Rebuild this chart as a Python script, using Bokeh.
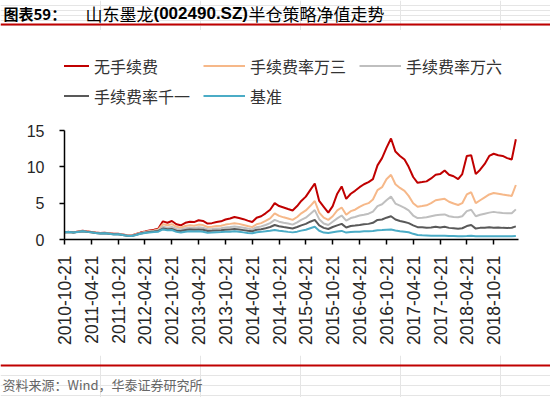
import pandas as pd
from bokeh.plotting import figure
from bokeh.models import Range1d, FixedTicker, DatetimeTickFormatter, Legend, LegendItem
from bokeh.layouts import column
from bokeh.embed import file_html
from bokeh.resources import INLINE
from bokeh.core.properties import value

# ---------------- data ----------------
TITLE_TAG = "图表59："
TITLE_NAME = "山东墨龙"
TITLE_CODE = "(002490.SZ)"
TITLE_REST = "半仓策略净值走势"
SOURCE = "资料来源：Wind，华泰证券研究所"

SERIES_NAMES = ["无手续费", "手续费率万三", "手续费率万六", "手续费率千一", "基准"]
SERIES_COLORS = ["#C00000", "#F6B889", "#BFBFBF", "#595959", "#4BACC6"]

TICK_LABELS = ["2010-10-21", "2011-04-21", "2011-10-21", "2012-04-21", "2012-10-21",
               "2013-04-21", "2013-10-21", "2014-04-21", "2014-10-21", "2015-04-21",
               "2015-10-21", "2016-04-21", "2016-10-21", "2017-04-21", "2017-10-21",
               "2018-04-21", "2018-10-21"]
Y_TICKS = [0, 5, 10, 15]

START_DATE = "2010-10-21"
END_DATE = "2019-04-08"

no_fee = [1.00, 1.05, 0.98, 1.10, 1.20, 1.12, 1.05, 0.95, 0.90, 0.92, 0.85, 0.78,
          0.80, 0.70, 0.58, 0.55, 0.75, 0.95, 1.10, 1.25, 1.35, 1.50, 2.50, 2.30,
          2.55, 2.10, 1.95, 2.30, 2.45, 2.40, 2.65, 2.55, 2.20, 2.25, 2.40, 2.50,
          2.75, 2.90, 3.10, 2.95, 2.80, 2.60, 2.40, 3.00, 3.20, 3.60, 4.10, 5.00,
          4.60, 4.40, 4.20, 4.00, 4.60, 5.30, 5.90, 6.80, 7.70, 5.30, 4.50, 3.70,
          4.60, 6.30, 7.30, 5.60, 6.30, 6.70, 7.20, 7.60, 7.90, 8.30, 10.20, 11.20,
          12.60, 13.90, 12.10, 11.50, 11.00, 10.00, 8.60, 7.80, 7.90, 8.00, 8.40, 8.90,
          9.00, 9.50, 8.90, 8.70, 8.30, 9.00, 11.50, 11.60, 9.00, 9.60, 10.40, 11.50,
          11.80, 11.60, 11.50, 11.20, 11.00, 13.80]

fee_3 = [1.00, 1.04, 0.97, 1.08, 1.17, 1.10, 1.03, 0.93, 0.88, 0.90, 0.83, 0.76,
         0.77, 0.67, 0.56, 0.53, 0.72, 0.90, 1.04, 1.16, 1.25, 1.38, 2.10, 1.95,
         2.10, 1.75, 1.62, 1.85, 1.95, 1.90, 2.05, 1.98, 1.72, 1.75, 1.85, 1.90,
         2.05, 2.15, 2.25, 2.15, 2.00, 1.85, 1.70, 2.10, 2.25, 2.55, 2.90, 3.60,
         3.25, 3.05, 2.90, 2.70, 3.10, 3.60, 4.00, 4.60, 5.30, 3.70, 3.00, 2.70,
         3.20, 4.00, 4.40, 3.40, 3.90, 4.10, 4.50, 4.80, 5.00, 5.50, 6.80, 7.20,
         8.30, 8.90, 7.60, 7.10, 6.70, 6.00, 5.00, 4.50, 4.60, 4.70, 5.00, 5.40,
         5.50, 5.60, 5.20, 4.95, 4.75, 5.00, 6.20, 6.50, 5.00, 5.40, 5.80, 6.20,
         6.40, 6.30, 6.20, 6.10, 6.00, 7.50]

fee_6 = [1.00, 1.03, 0.96, 1.06, 1.15, 1.08, 1.01, 0.91, 0.86, 0.88, 0.81, 0.74,
         0.75, 0.65, 0.54, 0.51, 0.69, 0.86, 0.99, 1.10, 1.18, 1.28, 1.75, 1.62,
         1.72, 1.45, 1.38, 1.55, 1.62, 1.58, 1.68, 1.62, 1.42, 1.45, 1.52, 1.55,
         1.65, 1.72, 1.80, 1.72, 1.62, 1.50, 1.38, 1.70, 1.80, 2.00, 2.25, 2.70,
         2.45, 2.30, 2.20, 2.05, 2.35, 2.70, 3.00, 3.50, 4.05, 2.80, 2.20, 2.00,
         2.45, 2.90, 3.30, 2.60, 2.95, 3.10, 3.30, 3.40, 3.55, 3.85, 4.60, 4.85,
         5.40, 5.90, 4.95, 4.65, 4.35, 4.00, 3.30, 2.95, 3.00, 3.05, 3.20, 3.35,
         3.40, 3.45, 3.20, 3.10, 3.05, 3.20, 3.90, 4.10, 3.20, 3.40, 3.55, 3.70,
         3.80, 3.70, 3.65, 3.60, 3.60, 4.15]

fee_10 = [1.00, 1.02, 0.95, 1.05, 1.13, 1.06, 0.99, 0.89, 0.84, 0.86, 0.79, 0.72,
          0.73, 0.63, 0.52, 0.49, 0.66, 0.82, 0.94, 1.04, 1.10, 1.18, 1.50, 1.40,
          1.45, 1.22, 1.16, 1.30, 1.36, 1.33, 1.38, 1.33, 1.17, 1.19, 1.24, 1.26,
          1.33, 1.38, 1.43, 1.37, 1.29, 1.20, 1.12, 1.35, 1.42, 1.56, 1.72, 2.00,
          1.82, 1.72, 1.63, 1.52, 1.72, 1.95, 2.15, 2.45, 2.70, 1.95, 1.60, 1.45,
          1.72, 1.95, 2.15, 1.65, 1.85, 1.92, 2.00, 2.10, 2.15, 2.30, 2.70, 2.75,
          3.00, 3.20, 2.75, 2.55, 2.40, 2.25, 1.95, 1.70, 1.68, 1.62, 1.65, 1.75,
          1.65, 1.75, 1.60, 1.55, 1.48, 1.55, 1.85, 2.00, 1.50, 1.60, 1.62, 1.70,
          1.62, 1.65, 1.60, 1.58, 1.62, 1.80]

benchmark = [1.00, 1.02, 0.96, 1.04, 1.12, 1.05, 0.98, 0.88, 0.83, 0.85, 0.78, 0.70,
             0.71, 0.61, 0.50, 0.47, 0.62, 0.78, 0.90, 0.98, 1.02, 1.08, 1.38, 1.28,
             1.30, 1.05, 0.95, 1.08, 1.12, 1.10, 1.12, 1.08, 0.94, 0.96, 1.00, 1.02,
             1.06, 1.08, 1.12, 1.06, 0.98, 0.90, 0.85, 1.00, 1.05, 1.12, 1.20, 1.30,
             1.20, 1.12, 1.05, 0.98, 1.08, 1.22, 1.35, 1.55, 1.75, 1.20, 0.95, 0.88,
             1.00, 1.10, 1.18, 0.95, 1.02, 1.05, 1.08, 1.12, 1.15, 1.18, 1.28, 1.30,
             1.35, 1.38, 1.25, 1.15, 1.08, 1.00, 0.78, 0.62, 0.58, 0.55, 0.52, 0.52,
             0.50, 0.50, 0.48, 0.47, 0.46, 0.46, 0.47, 0.50, 0.44, 0.45, 0.45, 0.46,
             0.45, 0.45, 0.44, 0.44, 0.45, 0.48]

dates = pd.date_range(START_DATE, periods=len(no_fee), freq=pd.DateOffset(months=1))
SERIES = [no_fee, fee_3, fee_6, fee_10, benchmark]

# ---------------- layout ----------------
W = 550
TOP_H, MAIN_H, BOT_H = 30, 325, 42
CJK = "Noto Sans CJK SC"
LATIN = "Liberation Sans"

# main frame geometry (pixels inside the main figure)
F_LEFT, F_RIGHT, F_TOP, F_BOTTOM = 64, 518, 10, 209
Y15_PX = 100                     # where the value 15 sits
Y_END = 15 * (F_BOTTOM - F_TOP) / (F_BOTTOM - Y15_PX)


def ms(s):
    return pd.Timestamp(s).value / 1e6


def deco_fig(h):
    return figure(width=W, height=h, x_range=Range1d(0, W), y_range=Range1d(h, 0),
                  output_backend="svg", toolbar_location=None,
                  min_border_left=0, min_border_right=0, min_border_top=0, min_border_bottom=0,
                  x_axis_location=None, y_axis_location=None, outline_line_color=None,
                  frame_align=False)


# header
top = deco_fig(TOP_H)
TY = 12.5
top.text(x=[3], y=[TY], text=[TITLE_TAG], text_font=value(CJK), text_font_style="bold",
         text_font_size="15px", text_baseline="middle", text_align="left", text_color="#000000")
top.text(x=[85], y=[TY], text=[TITLE_NAME], text_font=value(CJK),
         text_font_size="17px", text_baseline="middle", text_align="left", text_color="#000000")
top.text(x=[153], y=[TY], text=[TITLE_CODE], text_font=value(LATIN), text_font_style="bold",
         text_font_size="17px", text_baseline="middle", text_align="left", text_color="#000000")
top.text(x=[248], y=[TY], text=[TITLE_REST], text_font=value(CJK),
         text_font_size="17px", text_baseline="middle", text_align="left", text_color="#000000")
top.line(x=[0, W], y=[24, 24], line_color="#C00000", line_width=2)

# main chart
p = figure(width=W, height=MAIN_H, x_axis_type="datetime",
           x_range=Range1d(ms(START_DATE), ms(END_DATE)), y_range=Range1d(0, Y_END),
           output_backend="svg", toolbar_location=None,
           min_border_left=F_LEFT, min_border_right=W - F_RIGHT,
           min_border_top=F_TOP, min_border_bottom=MAIN_H - F_BOTTOM,
           outline_line_color=None, frame_align=False)
p.xgrid.visible = False
p.ygrid.visible = False

renderers = []
for vals, col in zip(SERIES, SERIES_COLORS):
    r = p.line(dates, vals, line_color=col, line_width=2)
    renderers.append(r)

leg_style = dict(orientation="horizontal", padding=0, margin=0, border_line_color=None,
                 background_fill_alpha=0, glyph_width=42, glyph_height=23, label_height=23,
                 label_width=102, label_standoff=5, spacing=7,
                 label_text_font=CJK, label_text_font_size="16px", label_text_color="#333333")
items = [LegendItem(label=n, renderers=[r]) for n, r in zip(SERIES_NAMES, renderers)]
leg1 = Legend(items=items[:3], location=(-17, 161.5), **leg_style)
leg2 = Legend(items=items[3:], location=(-17, 131.5), **leg_style)
p.add_layout(leg1)
p.add_layout(leg2)

p.xaxis.ticker = FixedTicker(ticks=[ms(s) for s in TICK_LABELS])
fmt = "%Y-%m-%d"
p.xaxis.formatter = DatetimeTickFormatter(days=fmt, months=fmt, years=fmt)
p.xaxis.major_label_orientation = 3.14159265 / 2
p.xaxis.major_label_standoff = 11
p.xaxis.major_label_text_font_size = "17.5px"
p.yaxis.ticker = FixedTicker(ticks=Y_TICKS)
p.yaxis.bounds = (0, 15)
p.yaxis.major_label_standoff = 15
p.yaxis.major_label_text_font_size = "16px"
for ax in (p.xaxis[0], p.yaxis[0]):
    ax.axis_line_color = "#000000"
    ax.axis_line_width = 1.5
    ax.major_tick_line_color = "#000000"
    ax.major_tick_line_width = 1.5
    ax.major_tick_out = 5
    ax.major_tick_in = 0
    ax.minor_tick_out = 0
    ax.minor_tick_in = 0
    ax.major_label_text_font = LATIN
    ax.major_label_text_color = "#262626"

# footer
bot = deco_fig(BOT_H)
bot.line(x=[0, W], y=[10, 10], line_color="#C00000", line_width=2)
bot.text(x=[2], y=[29], text=[SOURCE], text_font=value(CJK), text_font_size="13px",
         text_baseline="middle", text_align="left", text_color="#666666")

layout = column(top, p, bot)
open("out.html", "w").write(file_html(layout, INLINE))
